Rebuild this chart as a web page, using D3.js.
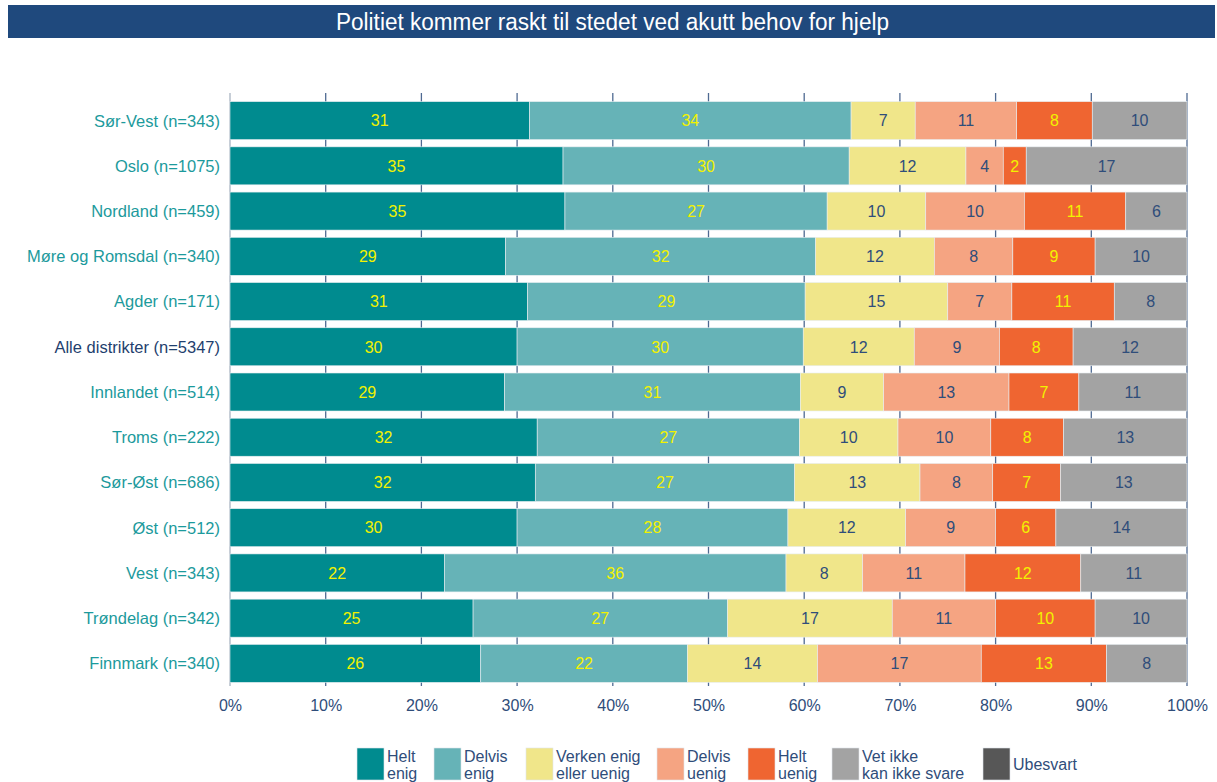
<!DOCTYPE html>
<html>
<head>
    <meta charset="utf-8">
    <title>Politiet kommer raskt til stedet</title>
    <style>
        body { margin: 0; background: #fff; }
        text { font-family: "Liberation Sans", Arial, sans-serif; }
    </style>
</head>
<body>
<main></main>
<script src="https://cdn.jsdelivr.net/npm/d3@7"></script>
<script>

    var categories = ["Sør-Vest (n=343)", "Oslo (n=1075)", "Nordland (n=459)", "Møre og Romsdal (n=340)",
        "Agder (n=171)", "Alle distrikter (n=5347)", "Innlandet (n=514)", "Troms (n=222)",
        "Sør-Øst (n=686)", "Øst (n=512)", "Vest (n=343)", "Trøndelag (n=342)", "Finnmark (n=340)"];

    var series = ["Helt enig", "Delvis enig", "Verken enig eller uenig", "Delvis uenig", "Helt uenig", "Vet ikke kan ikke svare", "Ubesvart"];

    // prosent per svarkategori, i samme rekkefolge som categories
    var heltEnig    = [31.3, 34.8, 35.0, 28.8, 31.1, 30.0, 28.7, 32.1, 31.9, 30.0, 22.4, 25.4, 26.2];
    var delvisEnig  = [33.6, 29.9, 27.4, 32.4, 29.0, 29.9, 30.9, 27.4, 27.1, 28.3, 35.7, 26.6, 21.6];
    var verken      = [6.7, 12.2, 10.3, 12.4, 14.9, 11.6, 8.7, 10.3, 13.1, 12.3, 8.0, 17.2, 13.6];
    var delvisUenig = [10.6, 3.9, 10.3, 8.2, 6.7, 8.9, 13.1, 9.7, 7.6, 9.4, 10.7, 10.8, 17.1];
    var heltUenig   = [7.9, 2.4, 10.6, 8.6, 10.7, 7.7, 7.3, 7.6, 7.1, 6.3, 12.1, 10.4, 13.1];
    var vetIkke     = [9.9, 16.8, 6.4, 9.6, 7.6, 11.9, 11.3, 12.9, 13.2, 13.7, 11.1, 9.6, 8.4];
    var ubesvart    = [0, 0, 0, 0, 0, 0, 0, 0, 0, 0, 0, 0, 0];

    var xTicks = [0, 10, 20, 30, 40, 50, 60, 70, 80, 90, 100];

    var colors = ["#008b8f", "#66b3b7", "#f0e68a", "#f5a482", "#ef6531", "#a3a3a3", "#575757"];
    var labelColors = ["#f2f200", "#f2f200", "#2f4d7a", "#2f4d7a", "#f2f200", "#2f4d7a", "#ffffff"];
    var legendLines = [["Helt", "enig"], ["Delvis", "enig"], ["Verken enig", "eller uenig"], ["Delvis", "uenig"],
        ["Helt", "uenig"], ["Vet ikke", "kan ikke svare"], ["Ubesvart"]];
    var legendX = [357, 434, 526, 657, 748, 832, 983];

    var allValues = [heltEnig, delvisEnig, verken, delvisUenig, heltUenig, vetIkke, ubesvart];
    var rows = categories.map(function (c, i) {
        var r = {cat: c};
        series.forEach(function (s, j) { r[s] = allValues[j][i]; });
        return r;
    });

    var width = 1217;
    var height = 782;

    var svg = d3.select("main")
        .append("svg")
        .attr("width", width)
        .attr("height", height);

    // tittel
    svg.append("rect")
        .attr("x", 8).attr("y", 5)
        .attr("width", 1207).attr("height", 33)
        .attr("fill", "#1f497d");
    svg.append("text")
        .attr("x", 336).attr("y", 30)
        .attr("fill", "#fff")
        .attr("font-size", "23px")
        .attr("textLength", 553)
        .attr("lengthAdjust", "spacingAndGlyphs")
        .text("Politiet kommer raskt til stedet ved akutt behov for hjelp");

    var x = d3.scaleLinear().domain([0, 100]).range([230, 1187]);
    var y = d3.scaleBand().domain(categories).range([98, 686]).paddingInner(0.16).paddingOuter(0.08);

    // rutenett
    svg.selectAll("line.grid")
        .data(xTicks)
        .enter()
        .append("line")
        .attr("class", "grid")
        .attr("x1", function (d) { return x(d); })
        .attr("x2", function (d) { return x(d); })
        .attr("y1", 93)
        .attr("y2", 686)
        .attr("stroke", function (d) { return d === 0 ? "#a9b4c2" : "#4f6a92"; })
        .attr("stroke-width", 1.3);

    var stacked = d3.stack().keys(series)(rows);

    var groups = svg.selectAll("g.series")
        .data(stacked)
        .enter()
        .append("g")
        .attr("class", "series");

    groups.selectAll("rect")
        .data(function (d) { return d; })
        .enter()
        .append("rect")
        .attr("x", function (d) { return x(d[0]); })
        .attr("y", function (d) { return y(d.data.cat); })
        .attr("width", function (d) { return x(d[1]) - x(d[0]); })
        .attr("height", y.bandwidth())
        .attr("fill", function (d, i, nodes) { return colors[series.indexOf(d3.select(nodes[i].parentNode).datum().key)]; })
        .attr("stroke", "#e8eef2")
        .attr("stroke-width", 0.6);

    groups.each(function (s, j) {
        d3.select(this).selectAll("text")
            .data(s.filter(function (d) { return d[1] - d[0] >= 1; }))
            .enter()
            .append("text")
            .attr("x", function (d) { return (x(d[0]) + x(d[1])) / 2; })
            .attr("y", function (d) { return y(d.data.cat) + y.bandwidth() / 2; })
            .attr("dy", "0.36em")
            .attr("text-anchor", "middle")
            .attr("font-size", "16px")
            .attr("fill", labelColors[j])
            .text(function (d) { return Math.round(d[1] - d[0]); });
    });

    // kategorinavn
    svg.selectAll("text.cat")
        .data(categories)
        .enter()
        .append("text")
        .attr("class", "cat")
        .attr("x", 220)
        .attr("y", function (d) { return y(d) + y.bandwidth() / 2; })
        .attr("dy", "0.36em")
        .attr("text-anchor", "end")
        .attr("font-size", "16.5px")
        .attr("fill", function (d) { return d.indexOf("Alle") === 0 ? "#1f3f6e" : "#1c9a9c"; })
        .text(function (d) { return d; });

    // x-akse
    var xAxis = d3.axisBottom(x).tickValues(xTicks).tickSize(0).tickPadding(14)
        .tickFormat(function (d) { return d + "%"; });
    var gx = svg.append("g").attr("transform", "translate(0,686)").call(xAxis);
    gx.select(".domain").remove();
    gx.selectAll("text")
        .attr("font-size", "16px")
        .attr("font-family", "Liberation Sans, Arial, sans-serif")
        .attr("fill", "#2f4d7a");

    // tegnforklaring
    var leg = svg.selectAll("g.legend")
        .data(series)
        .enter()
        .append("g")
        .attr("class", "legend")
        .attr("transform", function (d, i) { return "translate(" + legendX[i] + ",748)"; });
    leg.append("rect")
        .attr("width", 27).attr("height", 32)
        .attr("fill", function (d, i) { return colors[i]; })
        .attr("stroke", "#dfe5ea").attr("stroke-width", 0.6);
    leg.each(function (d, i) {
        var lines = legendLines[i];
        d3.select(this).selectAll("text")
            .data(lines)
            .enter()
            .append("text")
            .attr("x", 30)
            .attr("y", function (t, k) { return lines.length === 1 ? 22 : 14 + k * 17; })
            .attr("font-size", "16px")
            .attr("fill", "#2f4d7a")
            .text(function (t) { return t; });
    });
</script>
</body>
</html>
